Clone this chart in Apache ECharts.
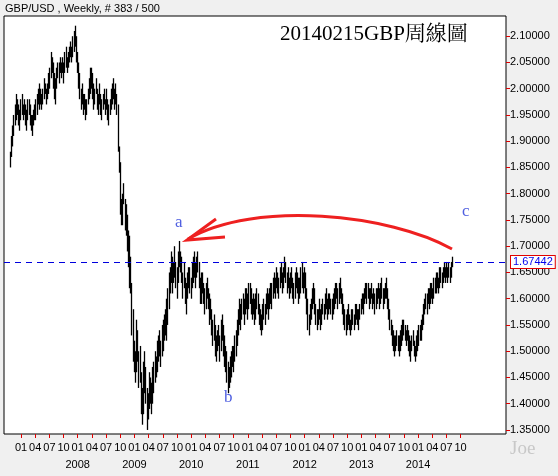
<!DOCTYPE html>
<html><head><meta charset="utf-8">
<script src="https://cdn.jsdelivr.net/npm/echarts@6/dist/echarts.min.js"></script>
<style>html,body{margin:0;padding:0;background:#f0f0f0}#c{width:558px;height:476px}</style>
</head><body><div id="c"></div>
<script>
// weekly [low, high] of GBP/USD
const weekRange = [
[1.85,1.88],[1.87,1.91],[1.89,1.93],[1.91,1.95],
[1.93,1.97],[1.94,1.99],[1.95,1.98],[1.93,1.97],[1.92,1.96],[1.94,1.98],[1.95,1.99],[1.94,1.97],[1.95,1.98],[1.93,1.97],[1.92,1.96],[1.94,1.98],[1.95,1.98],[1.93,1.97],[1.92,1.95],[1.91,1.95],[1.93,1.96],[1.94,1.97],[1.94,1.98],
[1.95,1.99],[1.97,2.00],[1.96,2.01],[1.97,2.00],[1.96,1.99],[1.97,2.00],[1.98,2.02],[1.99,2.01],[1.97,2.00],[1.98,2.01],[1.99,2.03],[2.00,2.04],
[2.02,2.07],[2.03,2.06],[2.00,2.05],[1.98,2.03],[1.97,2.02],[2.00,2.04],[2.02,2.05],[2.01,2.05],[2.03,2.06],
[2.02,2.05],[2.03,2.06],[2.01,2.05],[2.03,2.07],[2.04,2.08],[2.03,2.06],[2.04,2.07],[2.05,2.08],[2.06,2.09],[2.05,2.08],[2.06,2.10],[2.07,2.11],[2.08,2.12],[2.05,2.10],[2.03,2.07],
[2.00,2.05],[1.98,2.03],[1.96,2.00],[1.97,2.01],[1.95,1.99],[1.96,1.99],[1.94,1.98],[1.95,1.98],[1.97,2.00],
[1.98,2.02],[1.99,2.04],[2.00,2.04],[1.98,2.03],[1.96,2.01],[1.97,2.00],[1.99,2.02],[1.96,2.00],[1.95,1.99],[1.97,2.01],
[1.95,1.99],[1.94,1.98],[1.96,1.99],[1.97,2.00],[1.95,1.98],[1.96,2.00],[1.94,1.98],[1.93,1.97],[1.95,1.98],[1.96,2.00],[1.97,2.01],[1.98,2.02],[1.96,2.00],[1.97,2.01],[1.95,1.99],
[1.88,1.97],[1.84,1.89],[1.76,1.86],[1.74,1.79],
[1.74,1.80],[1.78,1.82],[1.73,1.79],[1.72,1.78],[1.69,1.76],
[1.66,1.73],[1.62,1.72],[1.61,1.68],[1.53,1.63],[1.48,1.58],[1.46,1.52],
[1.44,1.50],[1.46,1.56],[1.48,1.54],[1.43,1.50],[1.44,1.51],
[1.38,1.46],[1.36,1.43],[1.38,1.48],[1.42,1.50],[1.40,1.47],[1.35,1.43],[1.37,1.42],[1.39,1.46],[1.40,1.45],[1.38,1.44],[1.40,1.47],
[1.42,1.48],[1.44,1.50],[1.45,1.49],[1.46,1.52],[1.48,1.53],[1.49,1.54],[1.47,1.52],[1.49,1.55],[1.50,1.56],[1.52,1.57],[1.53,1.58],[1.52,1.60],[1.55,1.62],
[1.58,1.65],[1.61,1.66],[1.63,1.69],
[1.61,1.68],[1.63,1.67],[1.64,1.70],[1.62,1.67],[1.60,1.66],[1.63,1.69],[1.66,1.71],[1.65,1.69],[1.63,1.68],[1.60,1.65],[1.62,1.67],[1.59,1.64],[1.57,1.63],[1.60,1.65],[1.62,1.66],[1.61,1.66],
[1.60,1.64],[1.62,1.67],[1.63,1.68],[1.64,1.69],[1.62,1.67],[1.64,1.68],[1.65,1.69],[1.62,1.67],[1.59,1.64],
[1.59,1.65],[1.61,1.65],[1.59,1.63],[1.57,1.62],[1.58,1.63],[1.60,1.64],[1.58,1.62],[1.55,1.61],[1.56,1.60],
[1.53,1.58],[1.51,1.56],[1.52,1.57],[1.49,1.55],[1.48,1.53],[1.50,1.54],[1.51,1.55],[1.48,1.53],[1.50,1.56],[1.52,1.57],[1.49,1.55],[1.47,1.53],[1.46,1.51],
[1.44,1.50],[1.42,1.48],[1.43,1.47],[1.44,1.49],[1.45,1.50],[1.47,1.51],
[1.46,1.51],[1.48,1.53],[1.49,1.54],[1.51,1.56],[1.53,1.58],[1.55,1.60],[1.54,1.59],[1.56,1.60],[1.57,1.61],[1.55,1.60],[1.57,1.62],[1.58,1.62],[1.56,1.61],[1.58,1.63],[1.59,1.63],
[1.57,1.62],[1.56,1.60],[1.57,1.61],[1.55,1.60],[1.56,1.61],[1.58,1.62],[1.57,1.61],[1.55,1.59],[1.54,1.58],[1.53,1.57],[1.54,1.59],[1.56,1.60],[1.55,1.59],[1.57,1.61],[1.58,1.62],[1.56,1.61],[1.58,1.62],[1.59,1.63],
[1.58,1.63],[1.60,1.64],[1.61,1.65],[1.60,1.64],[1.62,1.66],[1.61,1.65],[1.60,1.64],[1.62,1.66],[1.63,1.67],[1.61,1.65],[1.62,1.66],[1.64,1.68],[1.63,1.67],
[1.61,1.65],[1.62,1.66],[1.60,1.64],[1.61,1.65],[1.62,1.66],[1.60,1.64],[1.59,1.63],[1.60,1.65],[1.62,1.66],[1.61,1.65],[1.59,1.64],[1.60,1.64],[1.61,1.66],[1.62,1.67],[1.61,1.65],[1.62,1.66],[1.60,1.65],
[1.57,1.62],[1.54,1.60],[1.53,1.57],[1.55,1.59],
[1.56,1.60],[1.58,1.62],[1.59,1.63],[1.57,1.62],[1.55,1.59],[1.54,1.58],[1.55,1.58],[1.56,1.60],[1.54,1.58],[1.55,1.59],[1.57,1.60],[1.56,1.59],[1.57,1.61],[1.58,1.62],[1.56,1.60],[1.57,1.61],[1.58,1.61],[1.57,1.60],[1.56,1.60],[1.57,1.61],[1.58,1.62],[1.59,1.63],
[1.60,1.63],[1.58,1.62],[1.59,1.63],[1.60,1.64],[1.59,1.62],[1.57,1.61],[1.55,1.59],[1.54,1.58],
[1.53,1.57],[1.54,1.58],[1.55,1.59],[1.54,1.57],[1.53,1.56],[1.54,1.58],[1.55,1.58],[1.54,1.57],[1.55,1.59],[1.56,1.59],[1.55,1.58],[1.54,1.58],[1.56,1.59],[1.57,1.60],[1.58,1.61],[1.57,1.61],[1.59,1.62],
[1.60,1.63],[1.59,1.63],[1.60,1.63],[1.58,1.62],[1.59,1.62],[1.60,1.63],[1.58,1.61],[1.59,1.62],[1.57,1.61],[1.58,1.62],[1.59,1.62],[1.60,1.63],[1.58,1.62],[1.59,1.63],[1.60,1.64],[1.58,1.62],[1.59,1.62],[1.60,1.63],[1.60,1.64],
[1.58,1.62],[1.56,1.60],[1.54,1.58],[1.53,1.56],[1.51,1.55],[1.50,1.54],[1.49,1.53],[1.50,1.53],[1.51,1.54],[1.50,1.53],[1.49,1.53],[1.50,1.54],
[1.51,1.55],[1.52,1.56],[1.53,1.56],[1.52,1.55],[1.51,1.54],[1.52,1.55],[1.50,1.54],[1.49,1.53],[1.48,1.52],[1.50,1.53],[1.51,1.54],[1.49,1.52],[1.48,1.51],[1.49,1.53],[1.50,1.54],[1.51,1.55],[1.52,1.55],
[1.52,1.56],[1.54,1.57],[1.55,1.59],[1.57,1.60],[1.58,1.61],[1.57,1.61],[1.59,1.62],[1.58,1.62],[1.59,1.63],[1.60,1.63],[1.59,1.62],[1.60,1.64],[1.61,1.64],[1.61,1.65],
[1.62,1.65],[1.61,1.64],[1.62,1.66],[1.63,1.66],[1.62,1.65],[1.63,1.66],[1.64,1.67],[1.63,1.66],[1.64,1.67],[1.63,1.66],[1.64,1.67],[1.63,1.66],[1.64,1.67],[1.66,1.68]
];
const lastPrice = 1.67442;
const priceTicks = [1.35,1.40,1.45,1.50,1.55,1.60,1.65,1.70,1.75,1.80,1.85,1.90,1.95,2.00,2.05,2.10];
const quarterLabels = ['01','04','07','10'];
const yearLabels = ['2008','2009','2010','2011','2012','2013','2014'];
const nQuarters = 32;

const N = weekRange.length;
const chart = echarts.init(document.getElementById('c'));
const qVals = []; for (let k = 0; k < nQuarters; k++) qVals.push(1.2 + k);
const yVals = yearLabels.map((_, k) => 1.2 + 4 * (k + 1));
const font = '"Liberation Sans", Arial, sans-serif';
chart.setOption({
  backgroundColor: '#f0f0f0',
  animation: false,
  grid: { left: 4, right: 52, top: 16, bottom: 42, show: true, backgroundColor: '#fff', borderColor: '#000', borderWidth: 1 },
  xAxis: [
    { type: 'value', min: -5.2, max: N - 1 + 46.7, show: false },
    { type: 'value', min: 0, max: 35.4, position: 'bottom',
      axisLine: { show: false, onZero: false }, splitLine: { show: false },
      axisTick: { show: true, length: 4, lineStyle: { color: '#e00000' }, customValues: qVals },
      axisLabel: { customValues: qVals, margin: 8, color: '#000', fontSize: 11, fontFamily: font,
        formatter: v => quarterLabels[Math.round(v - 1.2) % 4] } },
    { type: 'value', min: 0, max: 35.4, position: 'bottom', offset: 17,
      axisLine: { show: false, onZero: false }, splitLine: { show: false }, axisTick: { show: false },
      axisLabel: { customValues: yVals, margin: 8, color: '#000', fontSize: 11, fontFamily: font,
        formatter: v => yearLabels[Math.round((v - 1.2) / 4) - 1] } }
  ],
  yAxis: {
    type: 'value', position: 'right', min: 1.3423, max: 2.1385,
    axisLine: { show: false, onZero: false }, splitLine: { show: false },
    axisTick: { show: true, length: 4, lineStyle: { color: '#e00000' }, customValues: priceTicks },
    axisLabel: { customValues: priceTicks, margin: 4, color: '#000', fontSize: 11, fontFamily: font,
      formatter: v => v.toFixed(5) }
  },
  series: [{
    type: 'custom', xAxisIndex: 0,
    data: weekRange.map((r, i) => [i, r[0], r[1]]),
    renderItem: (params, api) => {
      const lo = api.coord([api.value(0), api.value(1)]);
      const hi = api.coord([api.value(0), api.value(2)]);
      const x = Math.round(lo[0]) + 0.5;
      return { type: 'line', shape: { x1: x, y1: lo[1], x2: x, y2: hi[1] }, style: { stroke: '#000', lineWidth: 1.3 } };
    },
    markLine: {
      silent: true, symbol: 'none',
      lineStyle: { color: '#0000dd', type: [6, 5], width: 1 },
      label: { show: true, position: 'end', distance: 5, formatter: lastPrice.toFixed(5),
        color: '#0000ee', fontSize: 11, fontFamily: font, backgroundColor: '#fff',
        borderColor: '#e00000', borderWidth: 1, padding: [1, 2, 0, 2] },
      data: [{ yAxis: lastPrice }]
    }
  }],
  graphic: [
    { type: 'text', left: 5, top: 3, style: { text: 'GBP/USD , Weekly, # 383 / 500', fill: '#000', font: '11px ' + font } },
    { type: 'text', left: 280, top: 24, style: { text: '20140215GBP周線圖', fill: '#000', font: '21px "Liberation Serif", "Noto Serif CJK TC", "Noto Sans CJK TC", serif' } },
    { type: 'text', left: 175, top: 214, style: { text: 'a', fill: '#5060e0', font: '17px "Liberation Serif", serif' } },
    { type: 'text', left: 224, top: 389, style: { text: 'b', fill: '#5060e0', font: '17px "Liberation Serif", serif' } },
    { type: 'text', left: 462, top: 203, style: { text: 'c', fill: '#5060e0', font: '17px "Liberation Serif", serif' } },
    { type: 'bezierCurve', shape: { x1: 452, y1: 249, cpx1: 390, cpy1: 214, cpx2: 255, cpy2: 200, x2: 188, y2: 239 }, style: { stroke: '#ee2020', lineWidth: 3, fill: null } },
    { type: 'polyline', shape: { points: [[216, 219], [187, 240], [225, 237]] }, style: { stroke: '#ee2020', lineWidth: 3, fill: null } },
    { type: 'text', left: 510, top: 440, style: { text: 'Joe', fill: '#c8c8c8', font: '19px "Liberation Serif", serif' } }
  ]
});
</script></body></html>
